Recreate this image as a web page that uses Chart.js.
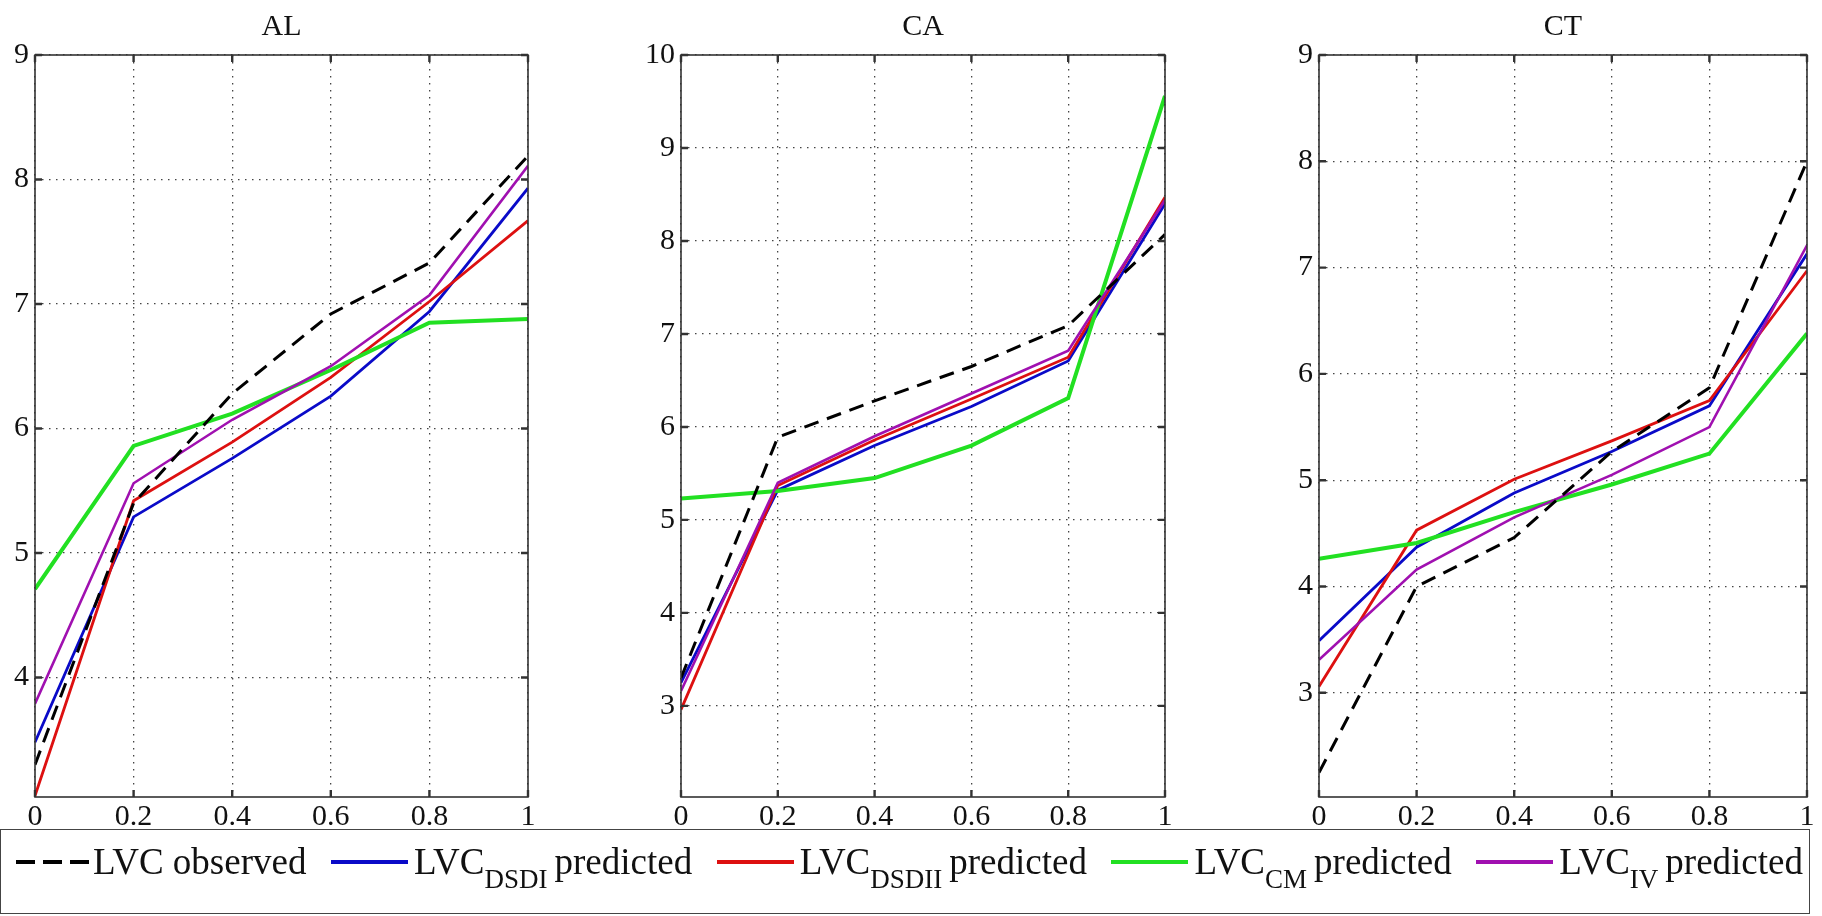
<!DOCTYPE html>
<html>
<head>
<meta charset="utf-8">
<title>LVC observed vs predicted</title>
<script src="https://cdn.jsdelivr.net/npm/chart.js@4.4.1/dist/chart.umd.min.js"></script>
<style>
  html, body { margin: 0; padding: 0; background: #fff; }
  body { width: 1822px; height: 916px; position: relative; overflow: hidden;
         font-family: "Liberation Serif", serif; color: #111; }
  canvas { position: absolute; top: 0; }
  #legend { position: absolute; left: 0; top: 829px; width: 1810px; height: 85px;
            box-sizing: border-box; border: 1.5px solid #444;
            display: flex; align-items: center; justify-content: space-between;
            padding: 0 6px 20px 15px; font-size: 37px; white-space: nowrap; }
  #legend .item { display: inline-block; line-height: 40px; }
  #legend .swatch { display: inline-block; width: 77px; height: 4px; margin-right: 6px; vertical-align: middle; position: relative; top: -3px; }
  #legend .dashed { width: 73px; margin-right: 4px; background: repeating-linear-gradient(90deg, #000 0 19px, transparent 19px 27px); }
  #legend sub { font-size: 27px; vertical-align: -14px; line-height: 0; margin-right: 7px; }
</style>
</head>
<body>
<canvas id="chart-al" width="558" height="840"></canvas>
<canvas id="chart-ca" width="549" height="840"></canvas>
<canvas id="chart-ct" width="553" height="840"></canvas>

<div id="legend">
  <span class="item"><span class="swatch dashed"></span>LVC observed</span>
  <span class="item"><span class="swatch" style="background:#0a0ac8"></span>LVC<sub>DSDI</sub>predicted</span>
  <span class="item"><span class="swatch" style="background:#dd1010"></span>LVC<sub>DSDII</sub>predicted</span>
  <span class="item"><span class="swatch" style="background:#22e022"></span>LVC<sub>CM</sub>predicted</span>
  <span class="item"><span class="swatch" style="background:#a010b0"></span>LVC<sub>IV</sub>predicted</span>
</div>

<script>
// x positions shared by every panel
const xValues = [0, 0.2, 0.4, 0.6, 0.8, 1];
const xTickLabels = ['0', '0.2', '0.4', '0.6', '0.8', '1'];

// AL
const alObserved = [3.30, 5.40, 6.28, 6.92, 7.33, 8.19];
const alDSDI     = [3.48, 5.29, 5.76, 6.26, 6.94, 7.93];
const alDSDII    = [3.05, 5.42, 5.89, 6.41, 7.02, 7.67];
const alCM       = [4.71, 5.86, 6.12, 6.47, 6.85, 6.88];
const alIV       = [3.79, 5.56, 6.07, 6.50, 7.07, 8.11];
const alYTicks   = [4, 5, 6, 7, 8, 9];

// CA
const caObserved = [3.30, 5.89, 6.28, 6.65, 7.09, 8.07];
const caDSDI     = [3.25, 5.32, 5.80, 6.22, 6.71, 8.40];
const caDSDII    = [2.96, 5.37, 5.86, 6.30, 6.75, 8.47];
const caCM       = [5.23, 5.31, 5.45, 5.80, 6.31, 9.56];
const caIV       = [3.16, 5.40, 5.90, 6.36, 6.82, 8.44];
const caYTicks   = [3, 4, 5, 6, 7, 8, 9, 10];

// CT
const ctObserved = [2.25, 4.00, 4.46, 5.27, 5.87, 8.00];
const ctDSDI     = [3.49, 4.37, 4.88, 5.27, 5.70, 7.13];
const ctDSDII    = [3.06, 4.53, 5.01, 5.37, 5.75, 6.97];
const ctCM       = [4.26, 4.41, 4.70, 4.96, 5.25, 6.38];
const ctIV       = [3.31, 4.16, 4.65, 5.05, 5.50, 7.21];
const ctYTicks   = [3, 4, 5, 6, 7, 8, 9];

const FONT = 'Liberation Serif';
const Y_AXIS_W = 45;
const X_AXIS_H = 43;

Chart.defaults.font.family = FONT;
Chart.defaults.color = '#111';

// panel title centred over the plot box, then the box itself with inward ticks
const boxPlugin = {
  id: 'box',
  afterDatasetsDraw(chart, args, opts) {
    const { ctx, chartArea: a, scales } = chart;
    ctx.save();
    ctx.fillStyle = '#111';
    ctx.font = '30px ' + FONT;
    ctx.textAlign = 'center';
    ctx.textBaseline = 'alphabetic';
    ctx.fillText(opts.title, (a.left + a.right) / 2, 35);

    ctx.strokeStyle = '#333';
    ctx.lineWidth = 1.6;
    ctx.strokeRect(a.left, a.top, a.right - a.left, a.bottom - a.top);
    ctx.lineWidth = 2.4;
    ctx.beginPath();
    scales.y.ticks.forEach(t => {
      const py = scales.y.getPixelForValue(t.value);
      ctx.moveTo(a.left, py); ctx.lineTo(a.left + 7, py);
      ctx.moveTo(a.right, py); ctx.lineTo(a.right - 7, py);
    });
    scales.x.ticks.forEach(t => {
      const px = scales.x.getPixelForValue(t.value);
      ctx.moveTo(px, a.bottom); ctx.lineTo(px, a.bottom - 7);
      ctx.moveTo(px, a.top); ctx.lineTo(px, a.top + 7);
    });
    ctx.stroke();
    ctx.restore();
  }
};

function series(vals) {
  return xValues.map((x, i) => ({ x, y: vals[i] }));
}

function makePanel(id, left, title, obs, dsdi, dsdii, cm, iv, yMin, yMax, yTicks) {
  const canvas = document.getElementById(id);
  canvas.style.left = (left - Y_AXIS_W) + 'px';
  const gridCommon = { color: '#444', lineWidth: 1.3, drawTicks: false };
  return new Chart(canvas, {
    type: 'line',
    data: {
      datasets: [
        { label: 'LVC observed', data: series(obs), borderColor: '#000', borderWidth: 3,
          borderDash: [15, 9], order: 0 },
        { label: 'LVC DSDI predicted', data: series(dsdi), borderColor: '#0a0ac8', borderWidth: 2.8, order: 4 },
        { label: 'LVC DSDII predicted', data: series(dsdii), borderColor: '#dd1010', borderWidth: 2.8, order: 3 },
        { label: 'LVC CM predicted', data: series(cm), borderColor: '#22e022', borderWidth: 4, order: 2 },
        { label: 'LVC IV predicted', data: series(iv), borderColor: '#a010b0', borderWidth: 2.6, order: 1 }
      ]
    },
    options: {
      responsive: false,
      animation: false,
      devicePixelRatio: 1,
      elements: { point: { radius: 0 }, line: { tension: 0, fill: false } },
      layout: { padding: { top: 55, right: 20, bottom: 0, left: 0 } },
      plugins: {
        legend: { display: false },
        tooltip: { enabled: false },
        title: { display: false },
        box: { title }
      },
      scales: {
        x: {
          type: 'linear', min: 0, max: 1,
          afterBuildTicks: s => { s.ticks = xValues.map(v => ({ value: v })); },
          afterFit: s => { s.height = X_AXIS_H; },
          ticks: { color: '#111', font: { family: FONT, size: 30 }, padding: 2,
                   maxRotation: 0, callback: (v, i) => xTickLabels[i] },
          grid: gridCommon,
          border: { display: false, dash: [1.5, 5.5] }
        },
        y: {
          type: 'linear', min: yMin, max: yMax,
          afterBuildTicks: s => { s.ticks = yTicks.map(v => ({ value: v })); },
          afterFit: s => { s.width = Y_AXIS_W; },
          ticks: { color: '#111', font: { family: FONT, size: 30 }, padding: 6 },
          grid: gridCommon,
          border: { display: false, dash: [1.5, 5.5] }
        }
      }
    },
    plugins: [boxPlugin]
  });
}

makePanel('chart-al', 35, 'AL', alObserved, alDSDI, alDSDII, alCM, alIV, 3.04, 9, alYTicks);
makePanel('chart-ca', 681, 'CA', caObserved, caDSDI, caDSDII, caCM, caIV, 2.02, 10, caYTicks);
makePanel('chart-ct', 1319, 'CT', ctObserved, ctDSDI, ctDSDII, ctCM, ctIV, 2.02, 9, ctYTicks);
</script>
</body>
</html>
